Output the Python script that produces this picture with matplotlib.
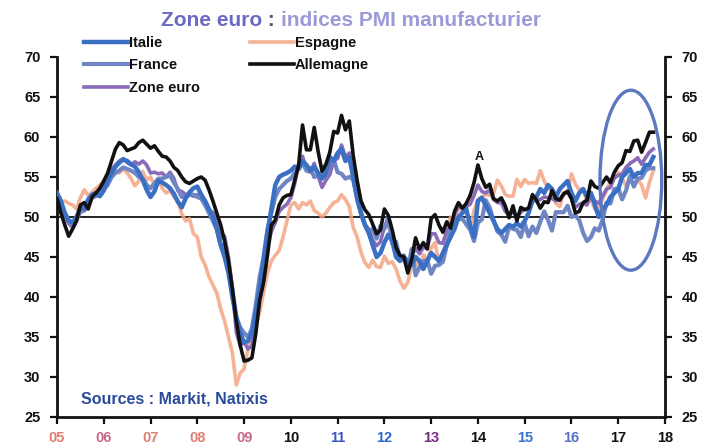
import numpy as np
import matplotlib
matplotlib.use("Agg")
import matplotlib.pyplot as plt
from matplotlib.patches import Ellipse

plt.rcParams['font.family'] = ['Liberation Sans', 'DejaVu Sans']

# Monthly manufacturing PMI, Jan 2005 - Oct 2017
italie = [
    53.0, 52.0, 50.5, 49.6, 49.3, 50.0, 51.2, 51.0, 52.2, 52.8, 53.0, 52.6,
    53.3, 54.5, 55.5, 56.3, 56.8, 57.2, 57.0, 56.6, 56.3, 55.6, 54.6, 53.4,
    52.5, 53.2, 54.5, 54.3, 54.0, 53.6, 52.9, 51.9, 51.2, 52.3, 53.1, 53.6,
    53.8, 52.8, 52.0, 51.0, 50.0, 48.5, 46.5, 45.0, 43.0, 40.0, 37.5, 35.5,
    34.3, 34.5, 35.5, 38.0, 41.0, 44.5, 48.0, 51.0, 54.0, 55.0, 55.3, 55.5,
    55.8, 56.3, 56.0, 57.0, 56.5, 55.8, 56.3, 55.5, 54.8, 55.5, 57.5, 57.0,
    58.0, 58.5, 57.0, 57.5, 55.0, 52.5, 50.5, 49.0, 48.0, 46.5, 45.0, 45.5,
    46.8, 47.8, 47.0, 45.0, 44.5, 45.0, 44.5, 44.0, 45.0, 44.5, 43.5, 44.5,
    45.5, 45.0, 44.5, 45.5, 46.5, 47.5, 48.5, 50.0, 50.5, 51.0, 49.0, 47.5,
    52.0, 52.4, 51.5, 50.5, 49.5, 48.5, 48.0, 48.5, 49.0, 48.8, 49.2, 48.8,
    49.5, 50.5, 52.0, 52.5, 53.5, 53.0, 54.0, 53.5, 52.5, 53.5, 54.0, 54.5,
    53.0, 52.0, 53.0, 53.5, 52.5, 53.0, 51.5, 50.0, 51.0, 51.5, 52.5, 53.0,
    53.5, 55.0, 55.5, 56.0, 55.0, 55.5, 55.5, 56.5, 56.5, 57.5,
]

france = [
    52.6, 51.5, 50.2, 49.4, 49.0, 49.8, 50.8, 50.8, 51.8, 52.4, 52.6, 52.8,
    53.5, 54.0, 55.0, 55.5, 55.8, 56.2, 56.0, 55.8, 55.5, 55.0, 54.8, 54.0,
    53.6, 54.2, 54.8, 54.8, 55.0, 55.2, 54.3, 53.5, 52.5, 52.6, 52.8, 52.8,
    52.5, 52.3, 51.5, 50.5, 49.5, 48.5, 46.5, 46.5, 44.0, 41.0, 37.5, 36.2,
    35.5, 35.0, 36.0, 39.0, 42.5, 45.0, 48.5, 50.5, 52.5, 53.5, 54.0, 54.5,
    54.8, 55.5, 56.0, 56.8, 55.8, 56.1, 55.0, 55.2, 55.3, 55.1, 57.0, 57.2,
    55.6, 55.4, 54.8, 55.0, 54.7, 52.5, 50.5, 49.1, 48.2, 48.5, 47.3, 48.9,
    48.5, 50.0, 46.7, 46.9, 44.7, 45.2, 43.4, 46.0, 42.7, 43.7, 44.5, 44.6,
    42.9, 43.9, 44.0, 44.4, 46.4, 48.4, 49.7, 49.7, 49.8, 49.1, 48.4, 47.0,
    49.3, 49.7, 52.1, 51.2, 49.6, 48.2, 47.8, 46.9, 48.8, 48.5, 48.4, 47.5,
    49.2, 47.6, 48.8, 48.0, 49.4, 50.7, 49.6, 48.3, 50.6, 50.6, 50.6, 51.4,
    50.0, 50.2, 49.6, 48.0, 47.0, 47.5, 48.6, 48.3, 49.7, 51.8, 51.7, 53.5,
    53.6, 52.2, 53.3, 55.1, 53.8, 54.8, 54.9, 55.8, 56.1, 56.1,
]

zone_euro = [
    52.8, 51.5, 50.0, 49.2, 48.7, 49.5, 50.6, 50.8, 51.8, 52.6, 52.9, 53.5,
    54.0, 55.0, 56.0, 56.5, 57.0, 57.3, 56.8, 56.5, 56.9, 56.6, 57.0, 56.5,
    55.5, 55.6, 55.4, 55.5, 55.0, 55.6, 54.8, 53.3, 53.2, 52.8, 52.8, 52.6,
    52.8, 52.3, 52.0, 50.7, 50.6, 49.2, 47.4, 47.6, 45.0, 41.1, 35.6, 33.9,
    34.4, 33.5, 33.9, 36.8, 40.7, 42.6, 46.3, 48.2, 49.3, 50.7, 51.2, 51.6,
    52.4, 54.2, 56.6, 57.6, 55.8, 55.6, 56.7, 55.1, 53.7, 54.6, 55.3, 57.1,
    57.3, 59.0, 57.5, 58.0, 54.6, 52.0, 50.4, 49.0, 48.5, 47.1, 46.4, 46.9,
    48.8, 49.0, 47.7, 45.9, 45.1, 45.1, 44.0, 45.1, 46.1, 45.4, 46.2, 46.1,
    47.9, 47.9, 46.8, 46.7, 48.3, 48.8, 50.3, 51.4, 51.1, 51.3, 51.6, 52.7,
    54.0, 53.2, 53.0, 53.4, 52.2, 51.8, 51.8, 50.7, 50.3, 50.6, 50.1, 50.6,
    51.0, 51.0, 52.2, 52.0, 52.2, 52.5, 52.4, 52.3, 52.0, 52.3, 52.8, 53.2,
    52.3, 51.2, 51.6, 51.7, 51.5, 52.8, 52.0, 51.7, 52.6, 53.5, 53.7, 54.9,
    55.2, 55.4, 56.2, 56.7, 57.0, 57.4, 56.6, 57.4, 58.1, 58.5,
]

espagne = [
    52.7, 51.9, 52.0, 51.7, 51.5, 51.0, 52.4, 53.4, 52.7, 53.1, 53.6, 54.0,
    54.5, 55.0, 55.5, 55.8, 55.5, 56.0, 55.5, 54.8, 53.9, 54.5, 55.7, 54.6,
    55.0, 54.0, 54.7, 53.6, 53.0, 53.3, 52.5, 52.1, 50.4, 49.5, 49.8, 47.9,
    47.5, 45.0, 44.0, 42.5, 41.5, 40.5, 38.5, 37.0, 35.0, 33.0, 29.0, 30.5,
    31.0, 33.5, 35.0, 36.3, 38.1, 40.6, 43.0, 44.5, 45.2, 45.8, 47.5, 49.5,
    51.5, 51.8, 51.0, 51.8, 51.5, 52.0, 50.8, 50.5, 50.0, 50.5, 51.2, 51.8,
    52.0, 52.8, 52.2, 51.3, 48.7, 47.5, 45.6, 44.3, 43.7, 44.6, 43.8, 43.7,
    45.1, 44.2, 44.4, 43.5, 42.0, 41.1, 41.8, 44.0, 44.5, 43.5, 45.3, 44.6,
    46.1, 46.8, 44.2, 44.7, 48.1, 50.0, 49.8, 51.1, 50.7, 50.9, 48.6, 50.8,
    52.2, 52.5, 52.8, 52.7, 52.9, 54.6, 53.9, 52.8, 52.6, 52.6, 54.7, 53.8,
    54.7, 54.2, 54.3, 54.2, 55.8, 54.5, 53.6, 53.2, 51.7, 51.3, 53.1, 53.0,
    55.4, 54.1, 53.4, 53.5, 51.8, 52.2, 51.0, 51.0, 52.3, 53.3, 54.5, 55.3,
    55.6, 54.8, 53.9, 54.5, 55.4, 54.7, 54.0, 52.4, 54.3, 55.8,
]

allemagne = [
    52.3, 50.5, 49.0, 47.6, 48.5, 49.5, 51.5, 51.8, 51.0, 52.5, 53.0, 53.6,
    54.5, 55.5, 57.0, 58.5, 59.3, 59.0, 58.3, 58.5, 58.7, 59.3, 59.6, 59.1,
    58.6, 58.9, 58.2, 57.6, 57.5, 57.0, 56.2, 55.8, 55.0, 54.4, 54.2, 54.5,
    54.8, 55.0, 54.6, 53.4, 52.0, 50.5, 49.0, 47.0, 44.5, 41.0, 37.0, 34.0,
    32.0, 32.1, 32.4, 35.4, 39.6, 41.8, 45.2, 49.0, 49.6, 51.5, 52.4, 52.7,
    52.8, 54.6, 56.5, 61.5, 58.4, 58.4, 61.2, 58.2, 55.7, 56.6, 58.1, 60.7,
    60.5, 62.7, 60.9, 62.0, 57.7, 54.6, 52.0, 50.9, 50.3, 49.1, 47.9, 48.4,
    51.0, 50.2, 48.4, 46.2, 45.2, 45.0, 43.0, 44.7, 47.4, 46.0, 46.8, 46.0,
    49.8, 50.3, 49.0, 48.1, 49.4, 48.6, 50.7, 51.8, 51.1, 51.7, 52.7, 54.3,
    56.5, 54.8, 53.7, 54.1, 52.3, 52.0, 52.4, 51.4, 49.9, 51.4, 49.5, 51.2,
    50.9, 51.1, 52.8, 52.1, 51.1, 51.9, 51.8, 53.3, 52.3, 52.1, 52.9, 53.2,
    52.3, 50.5, 50.7, 51.8, 52.1, 54.5, 53.8, 53.6, 54.3, 55.0, 54.3, 55.6,
    56.4, 56.8, 58.3, 58.2, 59.5, 59.6, 58.1, 59.3, 60.6, 60.6,
]

year_labels = ['05', '06', '07', '08', '09', '10', '11', '12', '13', '14',
               '15', '16', '17', '18']
year_label_colors = ['#e07f70', '#c86a86', '#d9806e', '#e07f70', '#c86a86',
                     '#111111', '#3a55c0', '#2a66d0', '#7a2a86', '#111111',
                     '#3a72d0', '#5a74c0', '#111111', '#111111']
y_ticks = [25, 30, 35, 40, 45, 50, 55, 60, 65, 70]

n = len(allemagne)
t = 2005 + np.arange(n) / 12.0

fig = plt.figure(figsize=(7.05, 4.45), dpi=100)
ax = fig.add_axes([57 / 705, 1 - 417 / 445, 608 / 705, 360 / 445])

ax.axhline(50, color='#111111', lw=1.3, zorder=1)

l_es, = ax.plot(t, espagne, color='#f4a582', lw=2.6, alpha=0.85, zorder=2,
                label='Espagne')
l_ze, = ax.plot(t, zone_euro, color='#8a6bb8', lw=2.6, zorder=3,
                label='Zone euro')
l_fr, = ax.plot(t, france, color='#6f86c4', lw=3.0, zorder=4, label='France')
l_it, = ax.plot(t, italie, color='#3a70c4', lw=3.2, zorder=5, label='Italie')
l_de, = ax.plot(t, allemagne, color='#111111', lw=2.6, zorder=6,
                label='Allemagne')

# Ellipse highlighting the 2017 pick-up
ax.add_patch(Ellipse((2017.27, 54.6), 1.32, 22.5, fill=False,
                     edgecolor='#5b78c0', lw=2.4, zorder=7))

ax.text(2014.02, 56.7, 'A', fontsize=9, fontweight='bold', color='#111111',
        ha='center', va='bottom', zorder=8)

ax.set_xlim(2005, 2018)
ax.set_ylim(25, 70)
ax.set_xticks(np.arange(2005, 2019))
ax.set_xticklabels(year_labels)
ax.set_yticks(y_ticks)
ax.set_yticklabels([str(v) for v in y_ticks])

for side in ['left', 'right', 'bottom']:
    ax.spines[side].set_linewidth(2.0)
    ax.spines[side].set_color('#111111')
ax.spines['top'].set_visible(False)

ax.tick_params(axis='both', direction='out', length=5, width=1.6,
               labelsize=10.5, colors='#111111', pad=5)
ax.tick_params(axis='y', left=True, right=True, labelleft=True,
               labelright=True, pad=7)
for lbl in ax.get_xticklabels() + ax.get_yticklabels():
    lbl.set_fontweight('bold')
for lbl, c in zip(ax.get_xticklabels(), year_label_colors):
    lbl.set_color(c)

ax.text(2005.52, 27.2, 'Sources : Markit, Natixis', fontsize=11.5,
        fontweight='bold', color='#2a4a9a', ha='left', va='center')

# Title in two tones
t1 = fig.text(161 / 705, 1 - 26 / 445, 'Zone euro', fontsize=15,
              fontweight='bold', color='#6a6ac4', ha='left', va='baseline')
t2 = ax.annotate(' : ', xy=(1, 0), xycoords=t1, fontsize=15,
                 fontweight='bold', color='#555566', ha='left', va='bottom',
                 annotation_clip=False)
ax.annotate('indices PMI manufacturier', xy=(1, 0), xycoords=t2, fontsize=15,
            fontweight='bold', color='#9a9ad8', ha='left', va='bottom',
            annotation_clip=False)

leg = fig.legend(handles=[l_it, l_fr, l_ze, l_es, l_de], ncol=2,
                 loc='upper left', bbox_to_anchor=(84 / 705, 1 - 36 / 445),
                 frameon=False, fontsize=10.5, handlelength=3.0,
                 handletextpad=0.1, columnspacing=3.4, labelspacing=0.58,
                 borderpad=0, borderaxespad=0)
for txt in leg.get_texts():
    txt.set_fontweight('bold')
    txt.set_color('#111111')

fig.savefig('out.png', dpi=100)
